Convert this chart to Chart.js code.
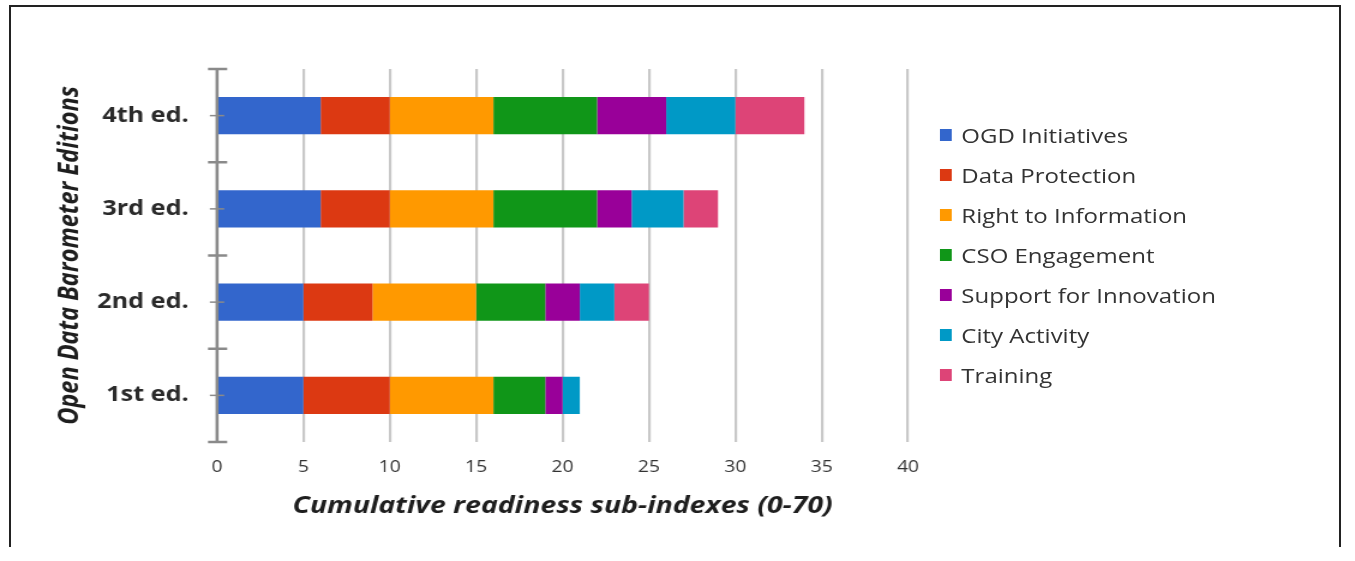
<!DOCTYPE html>
<html>
<head>
<meta charset="utf-8">
<script src="https://cdn.jsdelivr.net/npm/chart.js@4/dist/chart.umd.min.js"></script>
<style>
  html, body { margin: 0; padding: 0; background: #fff; overflow: hidden; }
  #frame {
    position: absolute; left: 9px; top: 5px; width: 1328px; height: 540px;
    border: 2px solid #222; border-bottom: none;
  }
  /* the drawing is laid out at 1129px and widened to the full 1355px window */
  #wrap {
    position: absolute; left: 0; top: 0; width: 1129px; height: 561px;
    transform-origin: 0 0; transform: scaleX(1.20018);
  }
  #legend {
    position: absolute; left: 783px; top: 115px;
    font-family: "Open Sans", sans-serif; font-size: 20px; color: #333;
  }
  #legend .item { height: 40px; display: flex; align-items: center; white-space: nowrap; }
  #legend .box { width: 10px; height: 12px; margin-right: 8px; flex: none; }
</style>
</head>
<body>
<div id="frame"></div>
<div id="wrap">
  <canvas id="chart" width="1129" height="561"></canvas>
  <div id="legend"></div>
</div>
<script>
// Editions, listed top to bottom
const editions = ['4th ed.', '3rd ed.', '2nd ed.', '1st ed.'];

// Sub-index scores per edition (same order as editions)
const ogdInitiatives     = [6, 6, 5, 5];
const dataProtection     = [4, 4, 4, 5];
const rightToInformation = [6, 6, 6, 6];
const csoEngagement      = [6, 6, 4, 3];
const supportInnovation  = [4, 2, 2, 1];
const cityActivity       = [4, 3, 2, 1];
const training           = [4, 2, 2, 0];

const seriesNames = ['OGD Initiatives', 'Data Protection', 'Right to Information',
  'CSO Engagement', 'Support for Innovation', 'City Activity', 'Training'];
const seriesColors = ['#3366CC', '#DC3912', '#FF9900', '#109618', '#990099', '#0099C6', '#DD4477'];
const seriesValues = [ogdInitiatives, dataProtection, rightToInformation,
  csoEngagement, supportInnovation, cityActivity, training];

const xTicks = [0, 5, 10, 15, 20, 25, 30, 35, 40];

// Vertical axis line with category boundary ticks and centre ticks
const axisPlugin = {
  id: 'editionAxis',
  afterDatasetsDraw(chart) {
    const { ctx, chartArea, scales: { y } } = chart;
    const x0 = chartArea.left;
    ctx.save();
    ctx.strokeStyle = '#8a8a8a';
    ctx.lineCap = 'butt';
    ctx.lineWidth = 2.5;
    ctx.beginPath();
    ctx.moveTo(x0, chartArea.top);
    ctx.lineTo(x0, chartArea.bottom);
    ctx.stroke();
    for (let i = 0; i <= editions.length; i++) {
      const yy = y.getPixelForValue(i - 0.5);
      ctx.lineWidth = 2.5;
      ctx.beginPath();
      ctx.moveTo(x0 - 7.5, yy);
      ctx.lineTo(x0 + 8.5, yy);
      ctx.stroke();
    }
    for (let i = 0; i < editions.length; i++) {
      const yy = y.getPixelForValue(i);
      ctx.lineWidth = 1.5;
      ctx.beginPath();
      ctx.moveTo(x0 - 6, yy);
      ctx.lineTo(x0 + 6, yy);
      ctx.stroke();
    }
    ctx.restore();
  }
};

const chart = new Chart(document.getElementById('chart'), {
  type: 'bar',
  data: {
    labels: editions,
    datasets: seriesNames.map((name, i) => ({
      label: name,
      data: seriesValues[i],
      backgroundColor: seriesColors[i],
      borderWidth: 0,
      categoryPercentage: 0.8,
      barPercentage: 0.5
    }))
  },
  options: {
    indexAxis: 'y',
    responsive: false,
    animation: false,
    layout: { padding: { top: 69, right: 372.4, left: 0, bottom: 0 } },
    plugins: {
      legend: { display: false },
      tooltip: { enabled: false }
    },
    scales: {
      x: {
        stacked: true,
        min: 0,
        max: 40,
        afterBuildTicks: (scale) => { scale.ticks = xTicks.map(v => ({ value: v })); },
        afterFit: (scale) => { scale.height = 119; },
        grid: { color: '#c8c8c8', lineWidth: 2.2, drawTicks: false },
        border: { display: false },
        ticks: {
          padding: 16,
          color: '#333',
          font: { family: 'Open Sans', size: 16 }
        },
        title: {
          display: true,
          text: 'Cumulative readiness sub-indexes (0-70)',
          color: '#1e1e1e',
          font: { family: 'Open Sans', size: 23.7, weight: 'bold', style: 'italic', lineHeight: 1.2 },
          padding: { top: 0, bottom: 40.8 }
        }
      },
      y: {
        stacked: true,
        afterFit: (scale) => { scale.width = 180.8; },
        grid: { display: false, drawTicks: false },
        border: { display: false },
        ticks: {
          padding: 23.5,
          color: '#2a2a2a',
          font: { family: 'Open Sans', size: 21, weight: 'bold' }
        },
        title: {
          display: true,
          text: 'Open Data Barometer Editions',
          color: '#1e1e1e',
          font: { family: 'Open Sans', size: 23.5, weight: 'bold', style: 'italic', lineHeight: 1.2 },
          padding: { top: 44.2, bottom: 0 }
        }
      }
    }
  },
  plugins: [axisPlugin]
});

// Legend built from the chart's datasets
const legendEl = document.getElementById('legend');
chart.data.datasets.forEach(ds => {
  const item = document.createElement('div');
  item.className = 'item';
  const box = document.createElement('span');
  box.className = 'box';
  box.style.background = ds.backgroundColor;
  const txt = document.createElement('span');
  txt.textContent = ds.label;
  item.appendChild(box);
  item.appendChild(txt);
  legendEl.appendChild(item);
});
</script>
</body>
</html>
